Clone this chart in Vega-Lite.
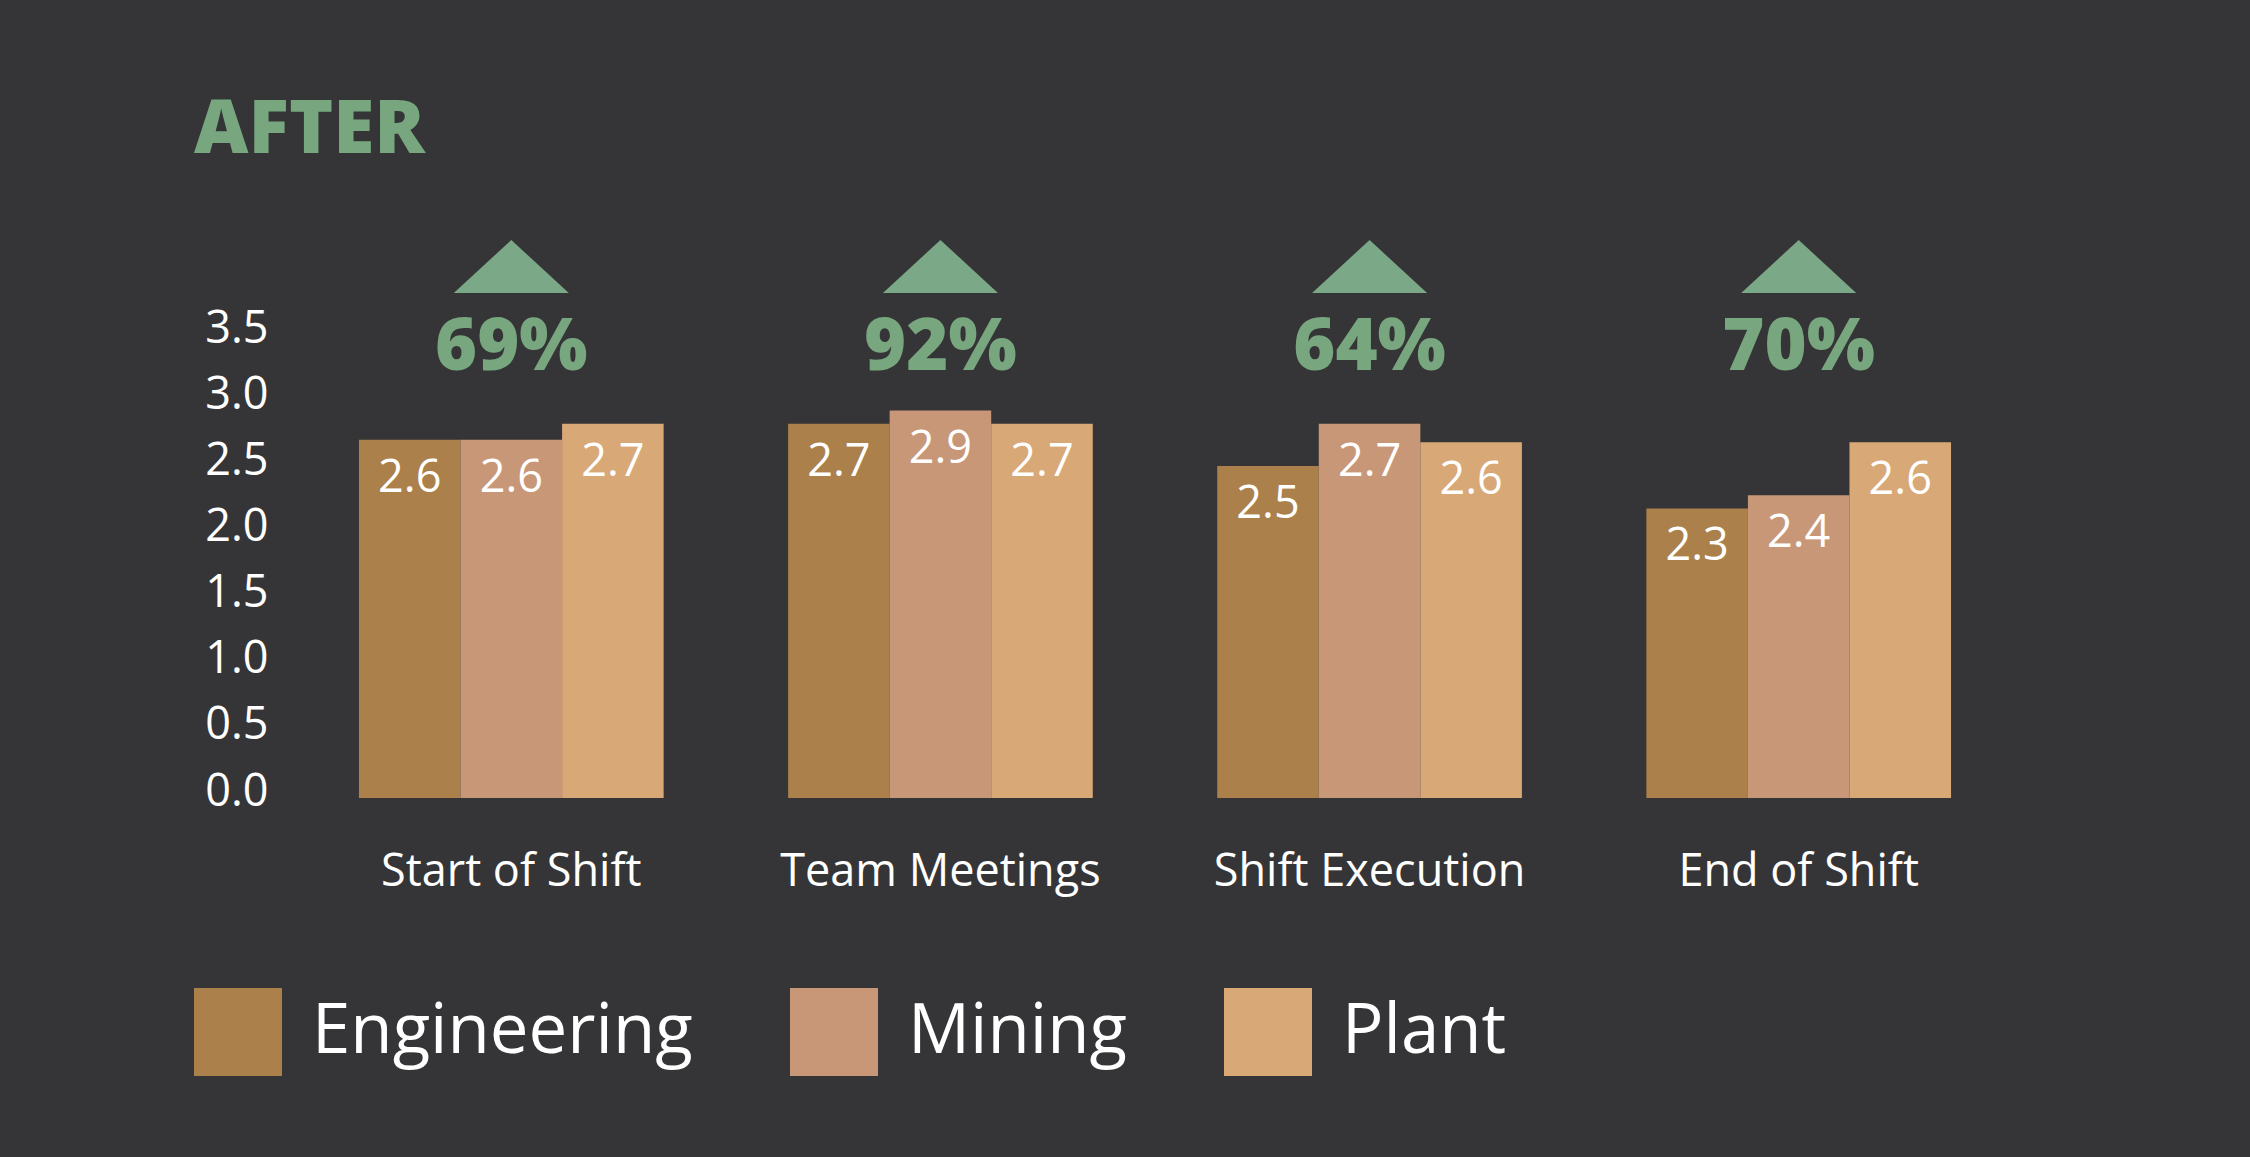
{
  "$schema": "https://vega.github.io/schema/vega-lite/v6.json",
  "width": 1750,
  "height": 595,
  "autosize": {"type": "none"},
  "padding": {"left": 280, "top": 203, "right": 220, "bottom": 359},
  "background": "#353537",
  "title": {
    "text": "AFTER",
    "anchor": "start",
    "frame": "group",
    "dx": -86,
    "offset": -25,
    "baseline": "alphabetic",
    "font": "Open Sans",
    "fontSize": 75,
    "fontWeight": 800,
    "color": "#77a67f"
  },
  "datasets": {
    "bars": [
      {"stage": "Start of Shift", "dept": "Engineering", "score": 2.71, "label": "2.6"},
      {"stage": "Start of Shift", "dept": "Mining", "score": 2.71, "label": "2.6"},
      {"stage": "Start of Shift", "dept": "Plant", "score": 2.83, "label": "2.7"},
      {"stage": "Team Meetings", "dept": "Engineering", "score": 2.83, "label": "2.7"},
      {"stage": "Team Meetings", "dept": "Mining", "score": 2.93, "label": "2.9"},
      {"stage": "Team Meetings", "dept": "Plant", "score": 2.83, "label": "2.7"},
      {"stage": "Shift Execution", "dept": "Engineering", "score": 2.51, "label": "2.5"},
      {"stage": "Shift Execution", "dept": "Mining", "score": 2.83, "label": "2.7"},
      {"stage": "Shift Execution", "dept": "Plant", "score": 2.69, "label": "2.6"},
      {"stage": "End of Shift", "dept": "Engineering", "score": 2.19, "label": "2.3"},
      {"stage": "End of Shift", "dept": "Mining", "score": 2.29, "label": "2.4"},
      {"stage": "End of Shift", "dept": "Plant", "score": 2.69, "label": "2.6"}
    ],
    "change": [
      {"stage": "Start of Shift", "pct": 0.69},
      {"stage": "Team Meetings", "pct": 0.92},
      {"stage": "Shift Execution", "pct": 0.64},
      {"stage": "End of Shift", "pct": 0.70}
    ]
  },
  "layer": [
    {
      "data": {"name": "bars"},
      "mark": {"type": "bar", "strokeWidth": 0},
      "encoding": {
        "x": {
          "field": "stage",
          "type": "nominal",
          "sort": ["Start of Shift", "Team Meetings", "Shift Execution", "End of Shift"],
          "scale": {"paddingInner": 0.29, "paddingOuter": 0.184},
          "axis": {
            "title": null,
            "labelAngle": 0,
            "ticks": false,
            "tickSize": 0,
            "domain": false,
            "labelFont": "Open Sans",
            "labelFontSize": 45,
            "labelColor": "#ffffff",
            "labelBaseline": "alphabetic",
            "labelPadding": 87,
            "labelLimit": 600
          }
        },
        "xOffset": {
          "field": "dept",
          "type": "nominal",
          "sort": ["Engineering", "Mining", "Plant"],
          "scale": {"paddingInner": 0, "paddingOuter": 0}
        },
        "y": {
          "field": "score",
          "type": "quantitative",
          "scale": {"domain": [0, 4.5], "nice": false},
          "axis": {
            "title": null,
            "values": [0, 0.5, 1, 1.5, 2, 2.5, 3, 3.5],
            "format": ".1f",
            "grid": false,
            "ticks": false,
            "tickSize": 0,
            "domain": false,
            "labelFont": "Open Sans",
            "labelFontSize": 45,
            "labelColor": "#ffffff",
            "labelPadding": 12,
            "labelOffset": -7
          }
        },
        "color": {
          "field": "dept",
          "type": "nominal",
          "scale": {
            "domain": ["Engineering", "Mining", "Plant"],
            "range": ["#ab804a", "#c89778", "#d8a877"]
          },
          "legend": {
            "title": null,
            "orient": "none",
            "legendX": -86,
            "legendY": 785,
            "direction": "horizontal",
            "padding": 0,
            "symbolType": "square",
            "symbolSize": 7744,
            "symbolStrokeWidth": 0,
            "symbolOpacity": 1,
            "labelFont": "Open Sans",
            "labelFontSize": 69,
            "labelColor": "#ffffff",
            "labelOffset": 30,
            "columnPadding": 97,
            "labelLimit": 600
          }
        }
      }
    },
    {
      "data": {"name": "bars"},
      "mark": {
        "type": "text",
        "baseline": "alphabetic",
        "align": "center",
        "dy": 52,
        "font": "Open Sans",
        "fontSize": 45,
        "color": "#ffffff"
      },
      "encoding": {
        "x": {"field": "stage", "type": "nominal", "sort": ["Start of Shift", "Team Meetings", "Shift Execution", "End of Shift"]},
        "xOffset": {"field": "dept", "type": "nominal", "sort": ["Engineering", "Mining", "Plant"]},
        "y": {"field": "score", "type": "quantitative"},
        "text": {"field": "label"}
      }
    },
    {
      "data": {"name": "change"},
      "mark": {
        "type": "point",
        "shape": "M-1,0.46L1,0.46L0,-0.46Z",
        "filled": true,
        "size": 13225,
        "opacity": 1,
        "color": "#7ba886",
        "strokeWidth": 0
      },
      "encoding": {
        "x": {"field": "stage", "type": "nominal", "sort": ["Start of Shift", "Team Meetings", "Shift Execution", "End of Shift"]},
        "y": {"datum": 4.02}
      }
    },
    {
      "data": {"name": "change"},
      "mark": {
        "type": "text",
        "baseline": "alphabetic",
        "align": "center",
        "font": "Open Sans",
        "fontSize": 72,
        "fontWeight": 800,
        "color": "#77a67f"
      },
      "encoding": {
        "x": {"field": "stage", "type": "nominal", "sort": ["Start of Shift", "Team Meetings", "Shift Execution", "End of Shift"]},
        "y": {"datum": 3.24},
        "text": {"field": "pct", "format": ".0%"}
      }
    }
  ],
  "config": {
    "view": {"stroke": null},
    "font": "Open Sans"
  }
}
